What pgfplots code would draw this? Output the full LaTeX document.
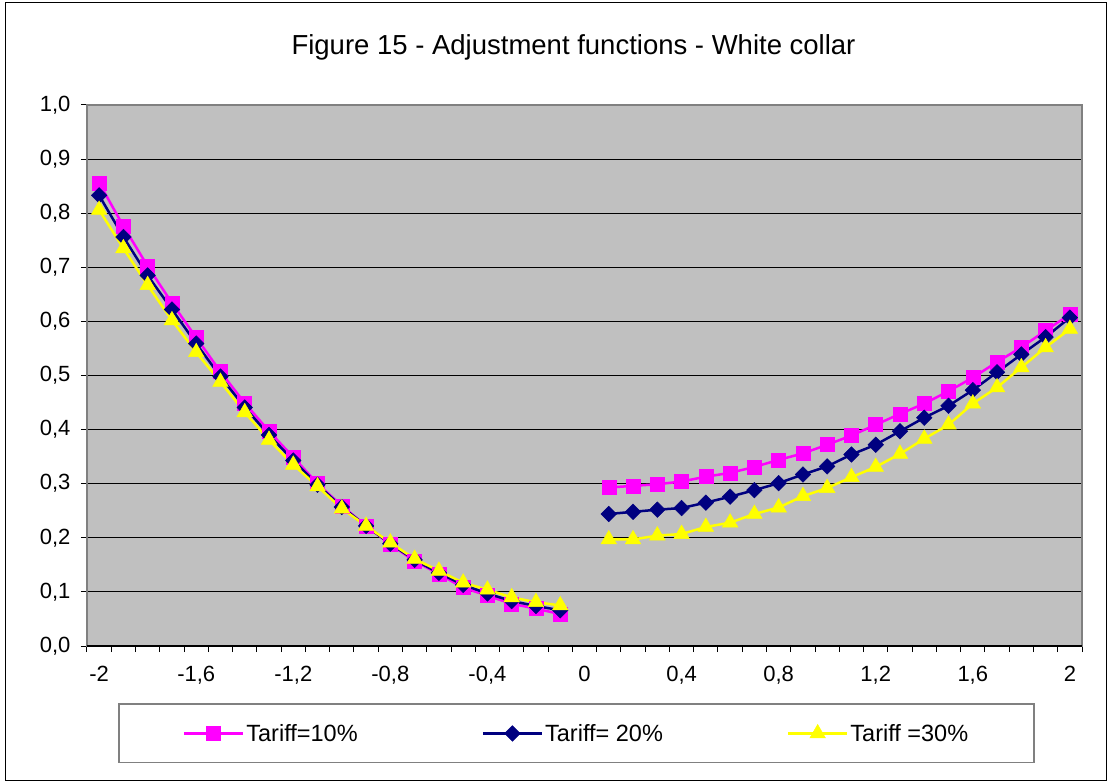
\documentclass[border=0pt]{standalone}
\usepackage{fontspec}
\setmainfont{Liberation Sans}
\usepackage{pgfplots}
\pgfplotsset{compat=1.18}
\definecolor{plotbg}{HTML}{C0C0C0}
\definecolor{sermag}{HTML}{FF00FF}
\definecolor{sernavy}{HTML}{000080}
\definecolor{seryel}{HTML}{FFFF00}
\definecolor{bordergray}{HTML}{808080}
\begin{document}
\begin{tikzpicture}
\begin{axis}[
  scale only axis, width=995pt, height=541pt,
  xmin=-2.05, xmax=2.05, ymin=0, ymax=1,
  axis background/.style={fill=plotbg},
  axis line style={draw=bordergray, line width=2pt},
  xtick={-2.05,-1.95,...,2.1}, xticklabels={},
  extra x ticks={-2,-1.6,-1.2,-0.8,-0.4,0,0.4,0.8,1.2,1.6,2},
  extra x tick labels={-2,{-1,6},{-1,2},{-0,8},{-0,4},0,{0,4},{0,8},{1,2},{1,6},2},
  extra x tick style={major tick length=0pt, grid=none},
  ytick={0,0.1,0.2,0.3,0.4,0.5,0.6,0.7,0.8,0.9,1.0},
  yticklabels={{0,0},{0,1},{0,2},{0,3},{0,4},{0,5},{0,6},{0,7},{0,8},{0,9},{1,0}},
  ymajorgrids, major grid style={black, line width=1pt},
  tick align=outside, tick pos=left, major tick length=6pt,
  tick style={black, line width=1pt},
  ticklabel style={font=\fontsize{22}{26}\selectfont},
  /pgf/number format/assume math mode=true,
  xticklabel style={anchor=base, yshift=-35pt},
  yticklabel style={anchor=east, xshift=-7pt},
  unbounded coords=jump,
  legend columns=3,
  legend image code/.code={\draw[mark repeat=2,mark phase=2,#1] plot coordinates {(0pt,0pt) (29.5pt,0pt) (59pt,0pt)};},
  legend style={at={(axis description cs:0.492,-0.1617)}, anchor=center,
    draw=bordergray, line width=1.5pt, fill=white,
    inner xsep=64pt, inner ysep=18pt,
    font=\fontsize{23.5}{28}\selectfont,
    /tikz/every even column/.append style={column sep=122pt}},
]
\addplot[color=sermag, line width=2.5pt, mark=square*, mark size=7pt,
  mark options={solid, fill=sermag, draw=sermag, line width=0.5pt}] coordinates {
(-2.0,0.856) (-1.9,0.776) (-1.8,0.702) (-1.7,0.634) (-1.6,0.570) (-1.5,0.507) (-1.4,0.449) (-1.3,0.397) (-1.2,0.349) (-1.1,0.300)
(-1.0,0.259) (-0.9,0.222) (-0.8,0.188) (-0.7,0.157) (-0.6,0.133) (-0.5,0.108) (-0.4,0.093) (-0.3,0.078) (-0.2,0.069) (-0.1,0.059)
(0,nan)
(0.1,0.293) (0.2,0.296) (0.3,0.299) (0.4,0.304) (0.5,0.313) (0.6,0.320) (0.7,0.331) (0.8,0.344) (0.9,0.356) (1.0,0.372)
(1.1,0.389) (1.2,0.409) (1.3,0.429) (1.4,0.448) (1.5,0.471) (1.6,0.496) (1.7,0.525) (1.8,0.552) (1.9,0.583) (2.0,0.613)
};
\addlegendentry{Tariff=10\%}
\addplot[color=sernavy, line width=2.5pt, mark=square*, mark size=5.5pt,
  mark options={solid, rotate=45, fill=sernavy, draw=sernavy, line width=0.5pt}] coordinates {
(-2.0,0.833) (-1.9,0.756) (-1.8,0.685) (-1.7,0.622) (-1.6,0.559) (-1.5,0.498) (-1.4,0.441) (-1.3,0.390) (-1.2,0.343) (-1.1,0.298)
(-1.0,0.257) (-0.9,0.222) (-0.8,0.189) (-0.7,0.159) (-0.6,0.135) (-0.5,0.113) (-0.4,0.097) (-0.3,0.083) (-0.2,0.074) (-0.1,0.066)
(0,nan)
(0.1,0.244) (0.2,0.248) (0.3,0.252) (0.4,0.255) (0.5,0.265) (0.6,0.276) (0.7,0.288) (0.8,0.301) (0.9,0.317) (1.0,0.332)
(1.1,0.354) (1.2,0.372) (1.3,0.397) (1.4,0.422) (1.5,0.444) (1.6,0.473) (1.7,0.506) (1.8,0.539) (1.9,0.571) (2.0,0.607)
};
\addlegendentry{Tariff= 20\%}
\addplot[color=seryel, line width=2.5pt, mark=triangle*, mark size=9pt,
  mark options={solid, fill=seryel, draw=seryel, line width=0.5pt}] coordinates {
(-2.0,0.806) (-1.9,0.735) (-1.8,0.667) (-1.7,0.602) (-1.6,0.543) (-1.5,0.488) (-1.4,0.432) (-1.3,0.381) (-1.2,0.335) (-1.1,0.295)
(-1.0,0.254) (-0.9,0.222) (-0.8,0.191) (-0.7,0.161) (-0.6,0.139) (-0.5,0.117) (-0.4,0.104) (-0.3,0.090) (-0.2,0.081) (-0.1,0.075)
(0,nan)
(0.1,0.197) (0.2,0.197) (0.3,0.204) (0.4,0.207) (0.5,0.220) (0.6,0.228) (0.7,0.244) (0.8,0.256) (0.9,0.277) (1.0,0.292)
(1.1,0.312) (1.2,0.331) (1.3,0.355) (1.4,0.383) (1.5,0.409) (1.6,0.448) (1.7,0.478) (1.8,0.515) (1.9,0.552) (2.0,0.586)
};
\addlegendentry{Tariff =30\%}
\draw[black, line width=1.5pt] (rel axis cs:0,0) -- (rel axis cs:1,0);
\end{axis}
\node[anchor=base, font=\fontsize{27.5}{32}\selectfont] at (486.5pt,591pt) {Figure 15 - Adjustment functions - White collar};
\draw[black, line width=1.5pt] (-81.5pt,-134.5pt) rectangle (1019.5pt,643.5pt);
\pgfresetboundingbox
\useasboundingbox (-87pt,-136pt) rectangle (1021pt,646pt);
\end{tikzpicture}
\end{document}
